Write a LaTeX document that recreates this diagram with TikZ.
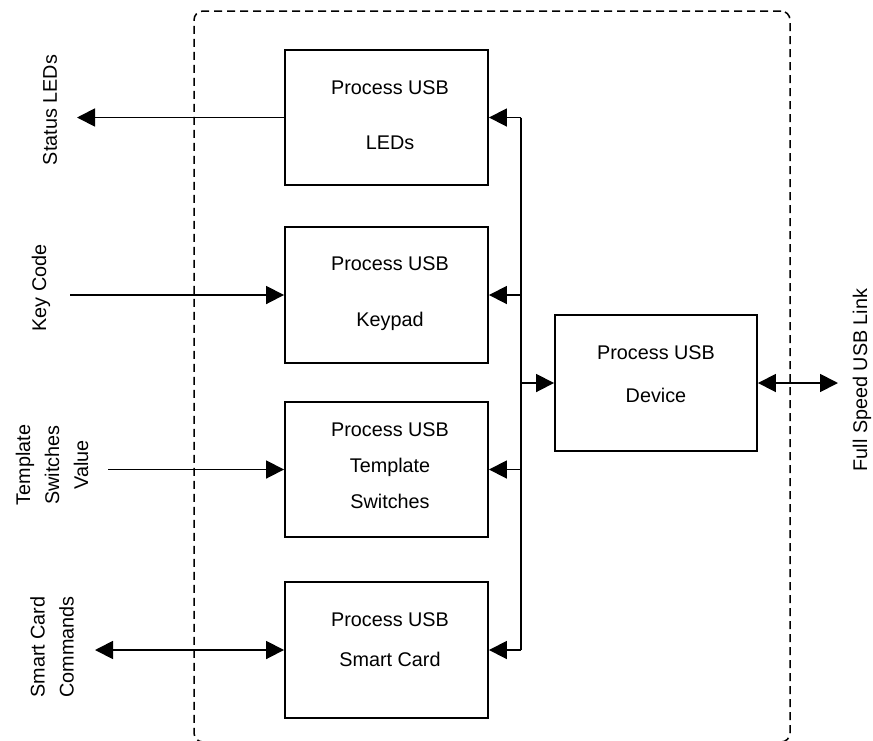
\documentclass[tikz,border=0pt]{standalone}
\usepackage{fontspec}
\setmainfont{Liberation Sans}
\usetikzlibrary{arrows.meta}
\begin{document}
\begin{tikzpicture}[x=1pt,y=-1pt,
  blk/.style={draw, line width=1.9pt, minimum width=203pt, minimum height=136pt, inner sep=0pt},
  txt/.style={align=center, font=\fontsize{19.8}{24}\selectfont, inner sep=0pt},
  side/.style={align=center, rotate=90, font=\fontsize{19.8}{29}\selectfont, inner sep=0pt},
  conn/.style={line width=1.8pt},
  tip/.style={-{Triangle[length=18pt,width=18pt]}},
  both/.style={{Triangle[length=18pt,width=18pt]}-{Triangle[length=18pt,width=18pt]}},
  frame/.style={draw, line width=1.5pt, dash pattern=on 8pt off 5pt, rounded corners=9pt, inner sep=0pt}
]
\useasboundingbox (0,0) rectangle (873,740);
% dashed enclosure
\node[frame, minimum width=596pt, minimum height=731pt] (encl) at (492,376.5) {};
% blocks
\node[blk, minimum height=135pt] (leds) at (386.5,117.5) {};
\node[blk] (keypad) at (386.5,295) {};
\node[blk, minimum height=135pt] (tmpl) at (386.5,469.5) {};
\node[blk] (smart) at (386.5,650) {};
\node[blk, minimum width=202pt] (device) at (656,383) {};
% block texts
\node[txt] (ledsT) at (390,115.5) {Process USB\\[31pt]LEDs};
\node[txt] (keypadT) at (390,294) {Process USB\\[32pt]Keypad};
\node[txt] (tmplT) at (390,466) {Process USB\\[12pt]Template\\[12pt]Switches};
\node[txt] (smartT) at (390,640) {Process USB\\[16pt]Smart Card};
\node[txt] (deviceT) at (656,374.5) {Process USB\\[19pt]Device};
% side labels
\node[side] (lblLED) at (50,110) {Status LEDs};
\node[side] (lblKey) at (41,288) {Key Code};
\node[side] (lblTmpl) at (52,465) {Template\\Switches\\Value};
\node[side] (lblSmart) at (52,647) {Smart Card\\Commands};
\node[side] (lblUSB) at (862,380) {Full Speed USB Link};
% free ends
\coordinate (sled) at (77,117.5);
\coordinate (kc) at (70,295);
\coordinate (tsv) at (108,469.5);
\coordinate (scc) at (95,650);
\coordinate (fsl) at (838,383);
\coordinate (btop) at (521,117.5);
\coordinate (bbot) at (521,650);
% left connectors
\draw[conn, tip] (leds.west) -- (sled);
\draw[conn, tip] (kc) -- (keypad.west);
\draw[conn, tip] (tsv) -- (tmpl.west);
\draw[conn, both] (scc) -- (smart.west);
% bus
\draw[conn] (btop) -- (bbot);
\draw[conn, tip] (btop) -- (leds.east);
\draw[conn, tip] (keypad.east -| btop) -- (keypad.east);
\draw[conn, tip] (tmpl.east -| btop) -- (tmpl.east);
\draw[conn, tip] (bbot) -- (smart.east);
\draw[conn, tip] (device.west -| btop) -- (device.west);
% USB link
\draw[conn, both] (device.east) -- (fsl);
\end{tikzpicture}
\end{document}
